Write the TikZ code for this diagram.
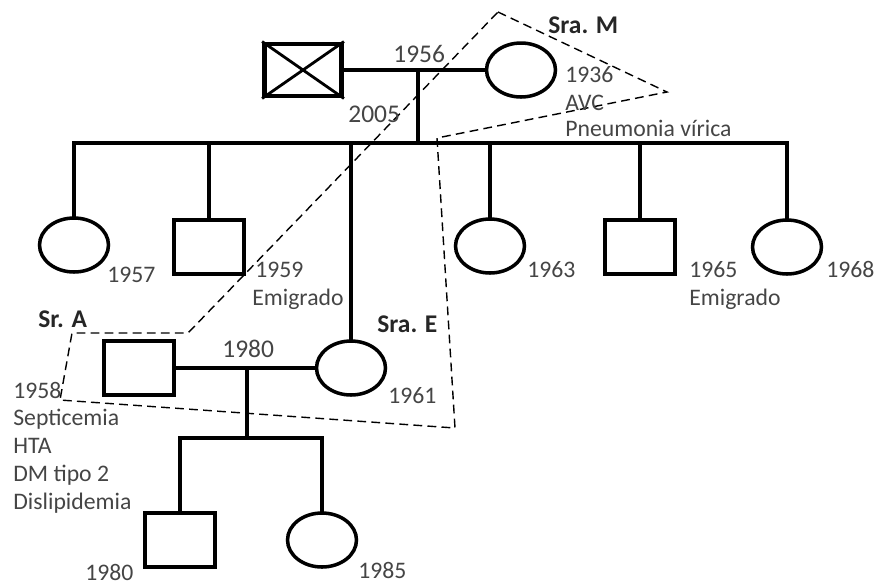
\documentclass[tikz,border=0pt]{standalone}
\usepackage{fontspec}
\setmainfont{Carlito}
\usepackage{tikz}
\usetikzlibrary{shapes.geometric}
\definecolor{txtgray}{rgb}{0.27,0.27,0.27}
\definecolor{whogray}{rgb}{0.15,0.15,0.15}

\begin{document}
\begin{tikzpicture}[
  x=0.02cm, y=-0.02cm,
  font=\fontsize{13.5}{15}\selectfont,
  male/.style={draw, line width=2.8pt, minimum width=1.4cm, minimum height=1.08cm, inner sep=0pt},
  female/.style={draw, ellipse, line width=2pt, minimum width=1.38cm, minimum height=1.08cm, inner sep=0pt},
  relline/.style={line width=2pt, line cap=rect},
  txt/.style={anchor=base west, inner sep=0pt, text=txtgray},
  yr/.style={txt, font=\fontsize{13.5}{15}\selectfont},
  bigyr/.style={txt, font=\fontsize{14.5}{16}\selectfont},
  who/.style={anchor=base west, inner sep=0pt, text=whogray, font=\fontsize{14.5}{16}\selectfont\bfseries},
  hull/.style={dash pattern=on 5pt off 3pt, line width=0.8pt}
]
\useasboundingbox (0,0) rectangle (878,586);

\node[male, minimum width=1.54cm, minimum height=1.04cm] (abuelo) at (303,70) {};
\draw[line width=1.6pt] (abuelo.north west) -- (abuelo.south east)
  (abuelo.north east) -- (abuelo.south west);
\node[female] (sraM) at (521,70) {};

\node[female] (hija1957) at (74,245) {};
\node[male] (hijo1959) at (209,247) {};
\node[female] (sraE) at (351,368) {};
\node[female] (hija1963) at (490,246) {};
\node[male] (hijo1965) at (640,247) {};
\node[female] (hija1968) at (787,247) {};

\node[male] (srA) at (139,368) {};
\node[male] (hijo1980) at (180,540) {};
\node[female] (hija1985) at (322,540) {};

\coordinate (m1) at (418,70);
\coordinate (s1) at (418,143);
\coordinate (m2) at (247,368);
\coordinate (s2) at (247,438);

\draw[relline] (abuelo) -- (sraM);
\draw[relline] (m1) -- (s1);
\draw[relline] (hija1957.north |- s1) -- (hija1968.north |- s1);
\foreach \k in {hija1957,hijo1959,sraE,hija1963,hijo1965,hija1968}
  \draw[relline] (\k.north |- s1) -- (\k.north);

\draw[relline] (srA) -- (sraE);
\draw[relline] (m2) -- (s2);
\draw[relline] (hijo1980.north |- s2) -- (hija1985.north |- s2);
\foreach \k in {hijo1980,hija1985}
  \draw[relline] (\k.north |- s2) -- (\k.north);

\draw[hull] (498,12) -- (667,92) -- (437,138) -- (455,428) -- (60,400)
  -- (72,333) -- (188,333) -- cycle;

\node[who] (lblM) at (548,33) {Sra. M};
\node[who] (lblA) at (38,327) {Sr. A};
\node[who] (lblE) at (377,332) {Sra. E};

\node[bigyr] (t1956) at (393,62) {1956};
\node[bigyr] (t2005) at (348,122) {2005};
\node[yr] (t1936) at (565,82) {1936};
\node[txt] (tavc) at (565,110) {AVC};
\node[txt] (tpneu) at (565,136) {Pneumonia vírica};
\node[yr] (t1957) at (107,282) {1957};
\node[yr] (t1959) at (255,277) {1959};
\node[txt] (tem1) at (252,305) {Emigrado};
\node[yr] (t1963) at (527,277) {1963};
\node[yr] (t1965) at (689,277) {1965};
\node[txt] (tem2) at (689,305) {Emigrado};
\node[yr] (t1968) at (826,277) {1968};
\node[bigyr] (t1980a) at (222,357) {1980};
\node[yr] (t1961) at (388,403) {1961};
\node[yr] (t1958) at (13,398) {1958};
\node[txt] (tsep) at (13,425) {Septicemia};
\node[txt] (thta) at (13,453) {HTA};
\node[txt] (tdm) at (13,481) {DM tipo 2};
\node[txt] (tdis) at (13,509) {Dislipidemia};
\node[yr] (t1980b) at (85,580) {1980};
\node[yr] (t1985) at (358,578) {1985};
\end{tikzpicture}
\end{document}
